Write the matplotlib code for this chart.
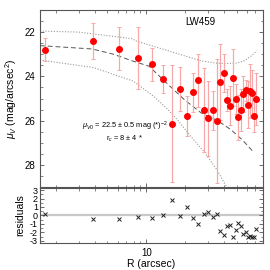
import numpy as np
import matplotlib
matplotlib.use("Agg")
import matplotlib.pyplot as plt
from matplotlib.ticker import FixedLocator, MultipleLocator, NullFormatter, LogLocator

plt.rcParams['font.family'] = ['Liberation Sans', 'DejaVu Sans']
plt.rcParams['mathtext.fontset'] = 'custom'
plt.rcParams['mathtext.rm'] = 'Liberation Sans'
plt.rcParams['mathtext.it'] = 'Liberation Sans:italic'
plt.rcParams['mathtext.bf'] = 'Liberation Sans:bold'

# ---- data ----
radius = [1.64, 3.83, 6.15, 8.61, 11.0, 13.4, 15.8, 18.3, 20.6, 22.9,
          25.3, 27.8, 30.1, 32.7, 35.1, 37.4, 39.7, 42.2, 44.5, 46.7,
          49.1, 51.5, 53.7, 56.1, 58.6, 61.0, 63.2, 65.7, 67.9, 70.1]
mu = [22.79, 22.40, 22.75, 23.19, 23.46, 24.10, 26.14, 24.56, 25.78, 24.71,
      24.18, 25.50, 25.90, 25.53, 26.00, 24.24, 23.84, 25.08, 25.32, 24.05,
      25.04, 25.84, 25.53, 24.79, 24.63, 25.27, 24.67, 24.76, 25.77, 25.01]
mu_err = [0.51, 0.80, 0.97, 1.40, 0.73, 0.63, 2.65, 1.00, 0.90, 0.88,
          1.18, 1.90, 1.70, 0.88, 2.80, 1.72, 0.85, 0.50, 0.88, 1.29,
          0.68, 1.02, 0.95, 0.80, 0.49, 1.07, 1.22, 1.03, 0.72, 1.18]
residuals = [0.19, -0.44, -0.36, -0.24, -0.28, 0.04, 1.82, -0.04, 1.02, -0.28,
             -1.04, 0.12, 0.36, -0.16, 0.12, -1.83, -2.35, -1.23, -1.07, -2.54,
             -1.67, -0.88, -1.23, -2.14, -1.95, -2.54, -2.46, -2.54, -2.54, -1.55]

# model curves
model_r = [1.5, 3.8, 5.5, 7.8, 10.5, 14.7, 19.7, 26.6, 35.7, 45.0, 55.0, 66.0]
model_mu = [22.61, 22.76, 22.99, 23.30, 23.54, 24.36, 25.05, 25.65, 26.0, 26.4, 26.85, 27.35]
upper_r = [1.5, 3.0, 7.9, 8.1, 14.7, 26.6, 35.0, 40.3, 50.0, 57.0, 64.0, 72.0]
upper_mu = [21.95, 22.0, 22.3, 22.38, 22.84, 23.3, 23.4, 23.42, 23.4, 23.3, 23.1, 22.85]
lower_r = [1.5, 3.9, 7.9, 11.4, 14.7, 17.4, 22.0, 28.0, 35.0, 42.0]
lower_mu = [23.26, 23.6, 24.21, 24.9, 25.5, 25.96, 26.7, 27.4, 28.2, 29.0]

label_text = "LW459"
fit_line1 = r"$\mu_{V0}$ = 22.5 $\pm$ 0.5 mag (*)$^{-2}$"
fit_line2 = r"r$_c$ = 8 $\pm$ 4 *"

# ---- figure ----
fig = plt.figure(figsize=(2.7, 2.7), dpi=100)
ax = fig.add_axes([0.148, 0.307, 0.826, 0.656])
axr = fig.add_axes([0.148, 0.100, 0.826, 0.204], sharex=ax)

spine_col = '#555555'
for a in (ax, axr):
    a.set_xscale('log')
    for s in a.spines.values():
        s.set_color(spine_col)
        s.set_linewidth(0.8)
    a.tick_params(which='both', direction='in', top=True, right=True,
                  colors=spine_col, labelcolor='black', labelsize=7)
    a.tick_params(which='major', length=3, width=0.6)
    a.tick_params(which='minor', length=1.8, width=0.5)

ax.set_xlim(1.5, 80)

ax.plot(upper_r, upper_mu, ls=(0, (1, 1.5)), color='#999999', lw=0.8)
ax.plot(lower_r, lower_mu, ls=(0, (1, 1.5)), color='#999999', lw=0.8)
ax.plot(model_r, model_mu, ls=(0, (5, 3)), color='#555555', lw=0.7)

ax.errorbar(radius, mu, yerr=mu_err, fmt='o', color='red', ms=4,
            ecolor='#f6a8a8', elinewidth=0.9, capsize=1.6, capthick=0.7,
            mec='red', zorder=3)

ax.set_ylim(29, 21)
ax.yaxis.set_major_locator(FixedLocator([22, 24, 26, 28]))
ax.yaxis.set_minor_locator(MultipleLocator(0.5))
ax.set_ylabel(r"$\mu_V$ (mag/arcsec$^2$)", fontsize=7.5, labelpad=4)
ax.tick_params(axis='x', labelbottom=False)

ax.text(0.72, 0.93, label_text, transform=ax.transAxes, fontsize=7,
        ha='center', va='center')
ax.text(0.188, 0.342, fit_line1, transform=ax.transAxes, fontsize=5.3,
        ha='left', va='center')
ax.text(0.295, 0.274, fit_line2, transform=ax.transAxes, fontsize=5.3,
        ha='left', va='center')

axr.axhline(0, color='#c8c8c8', lw=1.6, zorder=1)
axr.plot(radius, residuals, ls='none', marker='x', color='#222222', ms=3,
         mew=0.7, zorder=3)
axr.set_ylim(-3.25, 3.25)
axr.yaxis.set_major_locator(FixedLocator([-3, -2, -1, 0, 1, 2, 3]))
axr.yaxis.set_minor_locator(MultipleLocator(0.5))
axr.set_yticklabels(['-3', '-2', '-1', '0', '1', '2', '3'])
axr.tick_params(axis='y', labelsize=6.5, pad=1.5)
axr.set_ylabel("residuals", fontsize=7.5, labelpad=3)

axr.xaxis.set_major_locator(FixedLocator([10]))
axr.xaxis.set_minor_locator(LogLocator(base=10, subs=np.arange(2, 10)))
axr.xaxis.set_minor_formatter(NullFormatter())
axr.set_xticklabels(['10'])
axr.set_xlabel("R (arcsec)", fontsize=7.5, labelpad=1)

fig.savefig("out.png", dpi=100)
